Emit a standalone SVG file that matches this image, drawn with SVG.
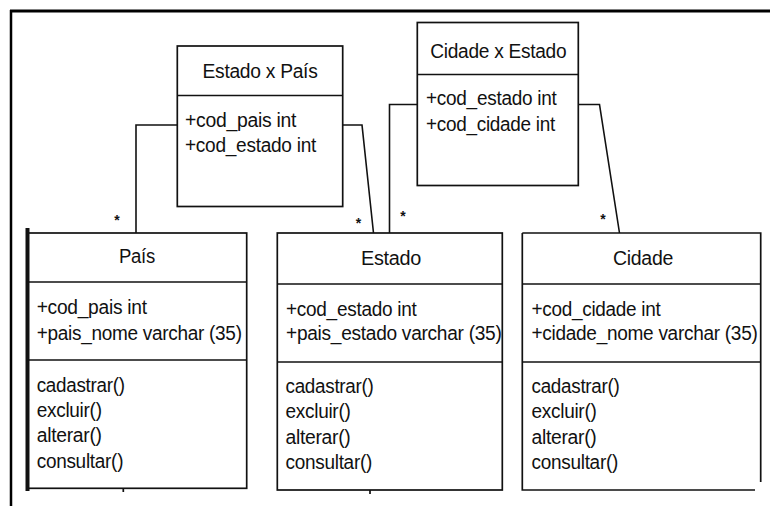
<svg xmlns="http://www.w3.org/2000/svg" width="770" height="506" viewBox="0 0 770 506">
  <style>
    .box { fill: #ffffff; stroke: #111111; stroke-width: 1.7; }
    .sep { stroke: #111111; stroke-width: 1.7; fill: none; }
    .link { stroke: #111111; stroke-width: 1.6; fill: none; }
    .frame { stroke: #000000; fill: none; }
    text { font-family: "Liberation Sans", Arial, sans-serif; font-size: 20px; fill: #111111; letter-spacing: -0.3px; }
    .title { text-anchor: middle; }
    .mult { font-size: 14px; font-weight: bold; text-anchor: middle; letter-spacing: 0; }
  </style>

  <rect x="0" y="0" width="770" height="506" fill="#ffffff"/>

  <!-- page frame -->
  <g id="frame">
    <line class="frame" x1="10" y1="11" x2="770" y2="11" stroke-width="3"/>
    <line class="frame" x1="11" y1="10" x2="11" y2="506" stroke-width="2.5"/>
  </g>

  <!-- association lines with multiplicities -->
  <g id="connectors">
    <polyline class="link" points="177,125 136,125 136,233"/>
    <polyline class="link" points="343,125 362,125 373.5,233"/>
    <polyline class="link" points="417,104.5 389.5,104.5 389.5,233"/>
    <polyline class="link" points="578.5,104.5 599.5,104.5 619.5,233"/>
    <text class="mult" x="117" y="225">*</text>
    <text class="mult" x="358.5" y="228">*</text>
    <text class="mult" x="403" y="221">*</text>
    <text class="mult" x="603" y="224">*</text>
  </g>

  <!-- association class Estado x País -->
  <g id="estado-x-pais">
    <rect class="box" x="177.3" y="46" width="165.4" height="160.5"/>
    <line class="sep" x1="177.3" y1="95.5" x2="342.7" y2="95.5"/>
    <text class="title" x="260" y="78" textLength="115" lengthAdjust="spacingAndGlyphs">Estado x País</text>
    <text x="185" y="127.3" textLength="111" lengthAdjust="spacingAndGlyphs">+cod_pais int</text>
    <text x="185" y="152" textLength="131" lengthAdjust="spacingAndGlyphs">+cod_estado int</text>
  </g>

  <!-- association class Cidade x Estado -->
  <g id="cidade-x-estado">
    <rect class="box" x="417.3" y="22.5" width="161" height="163"/>
    <line class="sep" x1="417.3" y1="74.5" x2="578.3" y2="74.5"/>
    <text class="title" x="498.3" y="57.5" textLength="136" lengthAdjust="spacingAndGlyphs">Cidade x Estado</text>
    <text x="426" y="105" textLength="130.5" lengthAdjust="spacingAndGlyphs">+cod_estado int</text>
    <text x="426" y="130.5" textLength="129" lengthAdjust="spacingAndGlyphs">+cod_cidade int</text>
  </g>

  <!-- class País -->
  <g id="pais">
    <rect class="box" x="27" y="233" width="219.7" height="255.3"/>
    <line x1="27.5" y1="228" x2="27.5" y2="491" stroke="#111111" stroke-width="4"/>
    <line class="sep" x1="27" y1="282" x2="246.7" y2="282"/>
    <line class="sep" x1="27" y1="360" x2="246.7" y2="360"/>
    <line class="sep" x1="123.3" y1="488" x2="123.3" y2="492"/>
    <text class="title" x="137" y="263" textLength="36" lengthAdjust="spacingAndGlyphs">País</text>
    <text x="36.7" y="314" textLength="110" lengthAdjust="spacingAndGlyphs">+cod_pais int</text>
    <text x="36.7" y="339.5" textLength="205" lengthAdjust="spacingAndGlyphs">+pais_nome varchar (35)</text>
    <text x="36.7" y="391.5" textLength="88" lengthAdjust="spacingAndGlyphs">cadastrar()</text>
    <text x="36.7" y="416.8" textLength="65" lengthAdjust="spacingAndGlyphs">excluir()</text>
    <text x="36.7" y="442" textLength="65" lengthAdjust="spacingAndGlyphs">alterar()</text>
    <text x="36.7" y="467.5" textLength="86.5" lengthAdjust="spacingAndGlyphs">consultar()</text>
  </g>

  <!-- class Estado -->
  <g id="estado">
    <rect class="box" x="277.3" y="233" width="225" height="257"/>
    <line class="sep" x1="277.3" y1="284" x2="502.3" y2="284"/>
    <line class="sep" x1="277.3" y1="362" x2="502.3" y2="362"/>
    <line class="sep" x1="370" y1="490" x2="370" y2="494"/>
    <text class="title" x="391" y="264.5" textLength="60" lengthAdjust="spacingAndGlyphs">Estado</text>
    <text x="286" y="315.5" textLength="130.5" lengthAdjust="spacingAndGlyphs">+cod_estado int</text>
    <text x="286" y="340" textLength="215.5" lengthAdjust="spacingAndGlyphs">+pais_estado varchar (35)</text>
    <text x="285.5" y="393" textLength="88" lengthAdjust="spacingAndGlyphs">cadastrar()</text>
    <text x="285.5" y="418.3" textLength="65" lengthAdjust="spacingAndGlyphs">excluir()</text>
    <text x="285.5" y="443.6" textLength="65" lengthAdjust="spacingAndGlyphs">alterar()</text>
    <text x="285.5" y="469" textLength="86.5" lengthAdjust="spacingAndGlyphs">consultar()</text>
  </g>

  <!-- class Cidade -->
  <g id="cidade">
    <path class="sep" d="M522.3,233 H760.7 V482 M755,490 H522.3 V233" fill="#ffffff"/>
    <line class="sep" x1="522.3" y1="284" x2="760.7" y2="284"/>
    <line class="sep" x1="522.3" y1="362" x2="760.7" y2="362"/>
    <text class="title" x="643" y="264.5" textLength="60" lengthAdjust="spacingAndGlyphs">Cidade</text>
    <text x="531.5" y="315.5" textLength="129" lengthAdjust="spacingAndGlyphs">+cod_cidade int</text>
    <text x="531.5" y="340" textLength="226" lengthAdjust="spacingAndGlyphs">+cidade_nome varchar (35)</text>
    <text x="531.5" y="393" textLength="88" lengthAdjust="spacingAndGlyphs">cadastrar()</text>
    <text x="531.5" y="418.3" textLength="65" lengthAdjust="spacingAndGlyphs">excluir()</text>
    <text x="531.5" y="443.6" textLength="65" lengthAdjust="spacingAndGlyphs">alterar()</text>
    <text x="531.5" y="469" textLength="86.5" lengthAdjust="spacingAndGlyphs">consultar()</text>
  </g>
</svg>
